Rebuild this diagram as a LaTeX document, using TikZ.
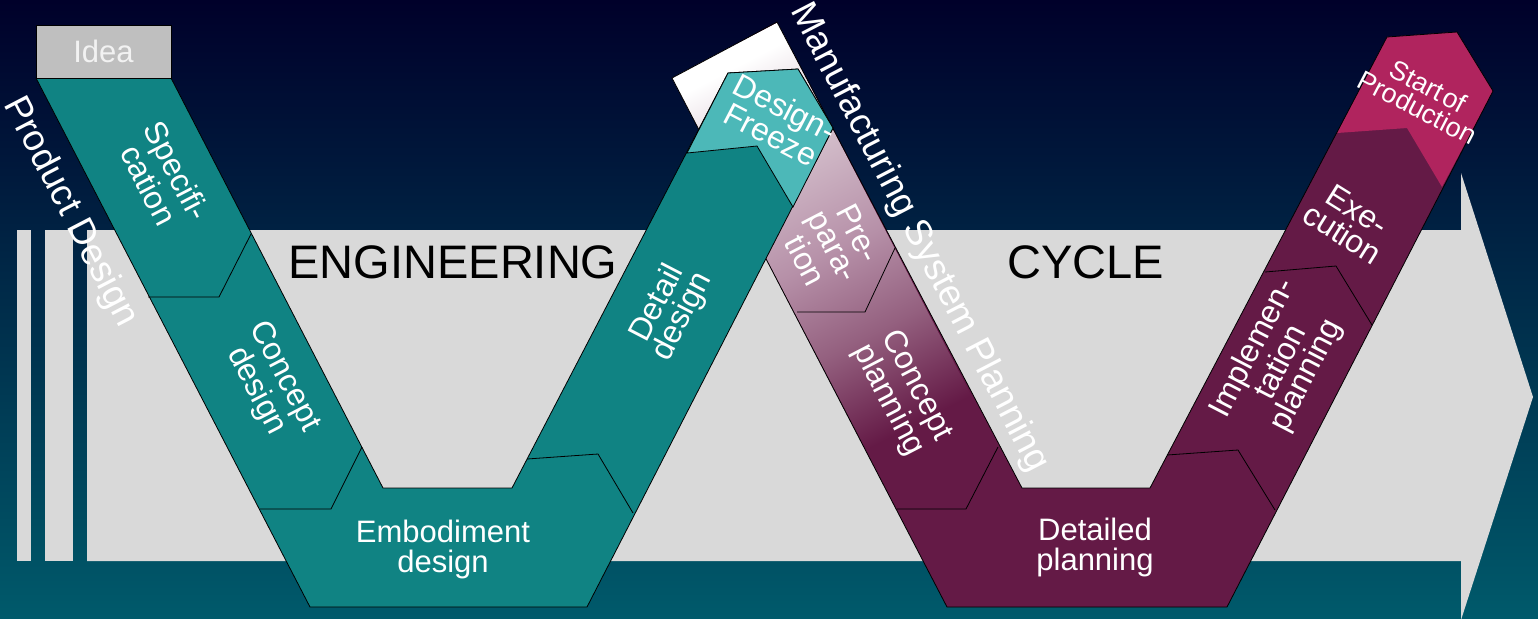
\documentclass[tikz,border=0pt]{standalone}
\usepackage{fontspec}
\setmainfont{Liberation Sans}
\definecolor{bgtop}{HTML}{00002A}
\definecolor{bgbot}{HTML}{005A6B}
\definecolor{arrowgray}{HTML}{D9D9D9}
\definecolor{engteal}{HTML}{108383}
\definecolor{freezeteal}{HTML}{4CB8B8}
\definecolor{mfgpurple}{HTML}{641A46}
\definecolor{mfgmid}{HTML}{94607F}
\definecolor{mfgpink}{HTML}{B690A8}
\definecolor{mfglight}{HTML}{D6C2CE}
\definecolor{sopred}{HTML}{B0245E}
\definecolor{ideagray}{HTML}{BFBFBF}
\pgfdeclareverticalshading{mfgfade}{100bp}{color(0bp)=(mfgpurple); color(33bp)=(mfgpurple); color(43bp)=(mfgmid); color(52bp)=(mfgpink); color(64bp)=(mfglight); color(73bp)=(white); color(100bp)=(white)}
\tikzset{
	outline/.style={draw=black, line width=0.4pt},
	lbl/.style={text=white, align=center, inner sep=0pt, font=\fontsize{16}{14}\selectfont},
	down arm/.style={lbl, rotate=-62.6},
	up arm/.style={lbl, rotate=62.6},
	across/.style={lbl, rotate=-27.4},
	side/.style={text=white, inner sep=0pt, rotate=-62.6, font=\fontsize{18.5}{18.5}\selectfont},
	flat/.style={lbl, font=\fontsize{15.5}{15}\selectfont}
}

\begin{document}
\begin{tikzpicture}[x=0.5pt, y=-0.5pt]
	\useasboundingbox (0,0) rectangle (1538,618);
	\shade [top color=bgtop, bottom color=bgbot] (0,0) rectangle (1538,618);
	% the engineering cycle arrow
	\fill [arrowgray] (87,230) -- (1461,230) -- (1461,173) -- (1533,397) -- (1461,620) -- (1461,561) -- (87,561) -- cycle;
	\foreach \a/\b in {17/31, 45/73}
	\fill [arrowgray] (\a,230) rectangle (\b,561);
	\node (eng) at (453,262.5) [font=\fontsize{23.5}{23.5}\selectfont, inner sep=0pt] {ENGINEERING};
	\node (cycle) at (1085.5,262.5) [font=\fontsize{23.5}{23.5}\selectfont, inner sep=0pt] {CYCLE};
	% manufacturing system planning
	\fill [mfgpurple] (672,78) -- (777,22) -- (1022,488) -- (1150,488) -- (1387,37) -- (1457,32) -- (1493,91) -- (1227,607) -- (947,607) -- cycle;
	\begin{scope}
		\clip (672,78) -- (777,22) -- (998,447) -- (966,509) -- (897,509) -- cycle;
		\begin{scope}[transform canvas={rotate around={27.4:(724.5,50)}}]
			\shade [shading=mfgfade] (614.5,50) rectangle (834.5,550);
		\end{scope}
	\end{scope}
	\fill [sopred] (1387,37) -- (1457,32) -- (1493,91) -- (1442,187) -- (1407,128) -- (1337,133) -- cycle;
	\draw [outline] (672,78) -- (777,22) -- (1022,488) -- (1150,488) -- (1387,37) -- (1457,32) -- (1493,91) -- (1227,607) -- (947,607) -- cycle;
	% product design
	\draw [outline, fill=engteal] (36,78) -- (171,78) -- (383,488) -- (512,488) -- (728,73) -- (798,69) -- (833,128) -- (587,607) -- (310,607) -- cycle;
	\draw [outline, fill=freezeteal] (728,73) -- (798,69) -- (833,128) -- (793,207) -- (757,146) -- (687,153) -- cycle;
	\node (idea) at (103.5,51.5) [outline, fill=ideagray, minimum width=67.5pt, minimum height=26.5pt, text=white!95!black, font=\fontsize{15.5}{15.5}\selectfont] {Idea};
	% phase borders
	\foreach \xa/\ya/\xb/\yb/\xc/\yc in {148/297/219/297/251/234, 260/509/331/509/362/447, 527/459/598/454/633/513,
		797/312/865/312/895/248, 897/509/966/509/998/447, 1167/455/1238/450/1275/510, 1265/272/1336/266/1372/325}
	\draw [outline] (\xa,\ya) -- (\xb,\yb) -- (\xc,\yc);
	% labels
	\node (spec) at (163,178) [down arm] {Specifi-\\cation};
	\node (cdesign) at (270,384) [down arm] {Concept\\design};
	\node (embod) at (443,549) [flat] {Embodiment\\design};
	\node (detail) at (670,310) [up arm] {Detail\\design};
	\node (freeze) at (778,121) [across] {Design-\\Freeze};
	\node (prep) at (832,247) [down arm] {Pre-\\para-\\tion};
	\node (cplan) at (902,393) [down arm] {Concept\\planning};
	\node (dplan) at (1095,547) [flat] {Detailed\\planning};
	\node (impl) at (1280,362) [up arm] {Implemen-\\tation\\planning};
	\node (exec) at (1350,222) [lbl, rotate=-32] {Exe-\\cution};
	\node (sop) at (1423,97) [across, font=\fontsize{13.5}{12}\selectfont] {Start\hspace{0.1em}of\\Production};
	\node (prod) at (70,212) [side] {Product Design};
	\node (mfg) at (919,238) [side] {Manufacturing System Planning};
\end{tikzpicture}
\end{document}
